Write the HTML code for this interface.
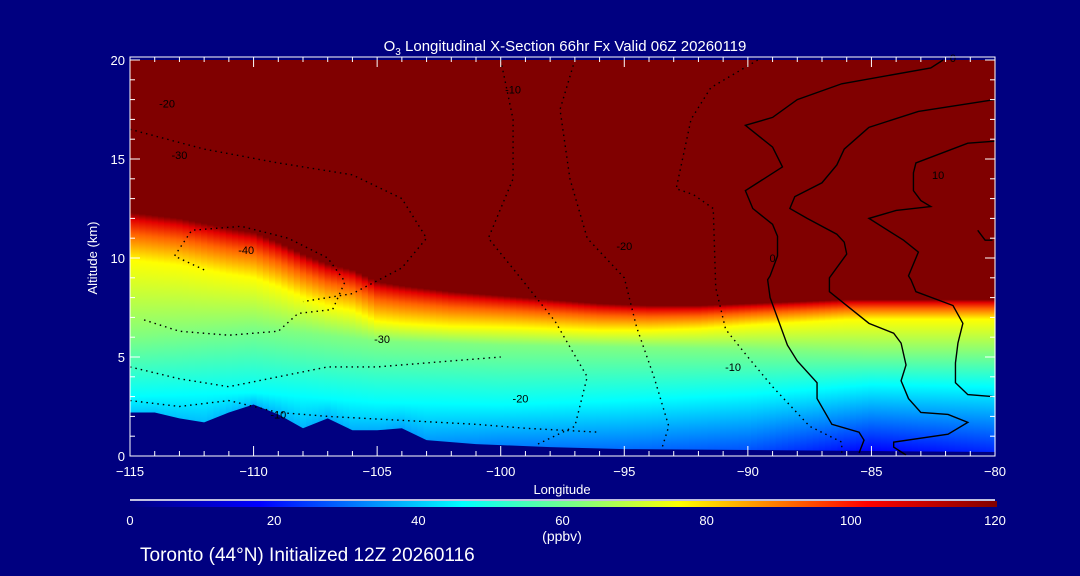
<!DOCTYPE html>
<html><head><meta charset="utf-8"><style>
body{margin:0;background:#000080;}
svg{display:block;font-family:"Liberation Sans",sans-serif;}
</style></head><body>
<svg id="chart" width="1080" height="576" viewBox="0 0 1080 576">
<rect width="1080" height="576" fill="#000080"/>
<defs id="defs"></defs>
<g id="field"></g>
<g id="terrain"></g>
<g id="contours"></g>
<g id="axes"></g>
<text x="565" y="51" fill="#fff" font-size="15" text-anchor="middle">O<tspan font-size="10" dy="4">3</tspan><tspan dy="-4"> Longitudinal X-Section 66hr  Fx Valid 06Z 20260119</tspan></text>
<text x="562" y="494" fill="#fff" font-size="13" text-anchor="middle">Longitude</text>
<text transform="translate(97,258) rotate(-90)" fill="#fff" font-size="13" text-anchor="middle">Altitude (km)</text>
<g id="cbar"></g>
<text x="562" y="541" fill="#fff" font-size="14" text-anchor="middle">(ppbv)</text>
<text x="140" y="561" fill="#fff" font-size="19">Toronto (44°N) Initialized 12Z 20260116</text>
</svg>
<script>
// ---- data ----
const terrLons = [-115,-114,-113,-112,-111,-110,-109,-108,-107,-106,-105,-104,-103,-102,-101,-100,-98,-95,-90,-85,-80];
const terrKm   = [2.2,2.2,1.9,1.7,2.2,2.6,2.1,1.4,1.9,1.3,1.3,1.4,0.8,0.7,0.6,0.55,0.45,0.35,0.3,0.25,0.2];
const tropoLons = [-115,-113,-111,-110,-109,-108,-107,-106,-105,-104,-102,-100,-98,-96,-94,-92,-90,-88,-86,-84,-82,-80];
const tropoKm   = [12.3,12.0,11.5,11.3,10.8,10.2,9.7,9.4,8.8,8.6,8.3,8.1,7.9,7.7,7.6,7.6,7.7,7.8,7.9,7.9,7.9,7.9];
const profLons = [-115,-110,-105,-100,-95,-90,-85,-80];
const transKm  = [2.4,2.3,2.0,1.6,1.3,1.1,1.0,1.0];
const z62Km    = [6.0,6.5,5.8,5.6,5.5,5.4,5.2,5.2];
const z46Km    = [3.0,3.2,2.7,2.6,2.8,3.1,3.6,3.5];
const sfcVal   = [40,38,37,32,30,27,18,22];
const cbarTicks = [0,20,40,60,80,100,120];
const xTicks = [-115,-110,-105,-100,-95,-90,-85,-80];
const yTicks = [0,5,10,15,20];
const solidA = [[-82.1,20.0],[-82.6,19.6],[-86.2,18.8],[-88.0,18.0],[-89.0,17.1],[-90.1,16.7],[-89.0,15.6],[-88.6,14.6],[-90.1,13.4],[-89.8,12.5],[-89.0,11.7],[-88.8,11.1],[-88.8,10.1],[-89.1,9.1],[-89.2,8.9],[-89.1,8.0],[-88.4,5.6],[-88.0,4.8],[-87.2,3.7],[-87.2,2.9],[-86.6,1.6],[-85.5,1.2],[-85.3,0.8],[-85.5,0.15]];
const solidB = [[-80.0,18.0],[-83.1,17.4],[-85.1,16.6],[-86.1,15.5],[-86.4,14.7],[-87.0,13.8],[-88.1,13.1],[-88.3,12.5],[-87.6,12.0],[-86.4,11.2],[-86.1,10.8],[-86.0,10.2],[-86.7,9.0],[-86.7,8.3],[-85.1,6.7],[-84.1,6.2],[-83.8,5.7],[-83.6,4.6],[-83.8,3.8],[-83.5,2.9],[-83.0,2.2],[-81.9,2.1],[-81.1,1.7],[-81.9,1.1],[-84.1,0.7],[-84.1,0.45],[-83.6,0.05]];
const solidC = [[-80.0,15.9],[-81.1,15.8],[-83.2,14.8],[-83.3,14.3],[-83.3,13.4],[-83.0,12.9],[-82.6,12.6],[-84.0,12.4],[-85.1,12.0],[-83.7,10.9],[-83.1,10.3],[-83.5,9.1],[-83.4,8.9],[-83.2,8.3],[-81.7,7.6],[-81.3,6.7],[-81.5,5.7],[-81.6,4.7],[-81.6,3.7],[-81.1,3.1],[-80.1,3.0]];
const solidD = [[-80.7,11.4],[-80.4,10.9],[-80.1,10.9]];
const dotA = [[-89.6,20],[-91.5,18.6],[-92.3,17.0],[-92.9,13.5],[-92.2,13.2],[-91.4,12.5],[-91.3,8.5],[-90.9,6.4],[-90.0,5.0],[-89.0,3.5],[-87.5,1.5],[-86.2,0.7],[-86.2,0.15]];
const dotB = [[-97.0,20],[-97.6,17.5],[-97.2,14],[-96.5,11],[-95.0,9.0],[-94.5,6.5],[-93.8,4.0],[-93.2,1.5],[-93.5,0.3]];
const dotC = [[-100.0,20],[-99.5,17],[-99.5,14],[-100.5,11],[-99.2,9],[-97.8,6.8],[-96.5,4],[-97.0,1.5],[-98.5,0.6]];
const dotD = [[-112.0,9.4],[-113.2,10.1],[-112.5,11.4],[-110.5,11.6],[-108.6,11.0],[-107.0,10.0],[-106.3,8.8],[-106.8,7.4],[-108.2,7.2],[-109.0,6.3],[-111.0,6.1],[-113.0,6.3],[-114.5,6.9]];
const dotE = [[-115,4.5],[-113,3.9],[-111,3.5],[-109,4.0],[-107,4.5],[-105,4.5],[-102,4.8],[-100,5.0]];
const dotF = [[-115,2.8],[-113,2.5],[-111,2.8],[-109,2.2],[-107,2.0],[-104,1.8],[-101,1.6],[-99,1.4],[-96,1.2]];
const dotG = [[-115,16.5],[-112,15.5],[-109,14.8],[-106,14.2],[-104,13.0],[-103,11.0],[-104,9.5],[-106,8.2],[-108,7.8]];
// ---- scales ----
const X0=130,X1=995,Y0=456,Y1=60;
const xs = l => X0+(l+115)/35*(X1-X0);
const ys = a => Y0-(a/20)*(Y0-Y1);
const NS='http://www.w3.org/2000/svg';
function mk(t,a,p){const e=document.createElementNS(NS,t);for(const k in a)e.setAttribute(k,a[k]);(p||document.getElementById('chart')).appendChild(e);return e;}
function interp(xa,ya,x){if(x<=xa[0])return ya[0];for(let i=1;i<xa.length;i++){if(x<=xa[i]){const t=(x-xa[i-1])/(xa[i]-xa[i-1]);return ya[i-1]+t*(ya[i]-ya[i-1]);}}return ya[ya.length-1];}
const cmS=[[0,[0,0,128]],[18,[0,0,255]],[46,[0,255,255]],[62,[128,255,128]],[76,[255,255,0]],[102,[255,0,0]],[120,[128,0,0]]];
function cmap(v){v=Math.max(0,Math.min(120,v));for(let i=1;i<cmS.length;i++){if(v<=cmS[i][0]){const t=(v-cmS[i-1][0])/(cmS[i][0]-cmS[i-1][0]);const a=cmS[i-1][1],b=cmS[i][1];return 'rgb('+a.map((c,j)=>Math.round(c+t*(b[j]-c))).join(',')+')';}}return 'rgb(128,0,0)';}
// ---- field ----
const defs=document.getElementById('defs'), field=document.getElementById('field');
const step=0.25;
for(let l=-115,i=0;l<-80+1e-6;l+=step,i++){
  const tr=interp(tropoLons,tropoKm,l), w=interp(profLons,transKm,l), z62=interp(profLons,z62Km,l), z46=interp(profLons,z46Km,l), s=interp(profLons,sfcVal,l), tz=interp(terrLons,terrKm,l);
  const pts=[[0,s],[Math.max(tz,0.01),s],[z46,46],[z62,62],[tr-w,76],[tr-w*0.45,92],[tr-w*0.15,106],[tr,120],[20,125]];
  const g=mk('linearGradient',{id:'g'+i,gradientUnits:'userSpaceOnUse',x1:0,x2:0,y1:ys(0),y2:ys(20)},defs);
  pts.forEach(p=>{mk('stop',{offset:Math.max(0,Math.min(1,p[0]/20)),'stop-color':cmap(p[1])},g);});
  const xa=xs(Math.max(-115,l-step/2)), xb=xs(Math.min(-80,l+step/2));
  const r=mk('rect',{x:xa,y:Y1,width:xb-xa+0.6,height:Y0-Y1,fill:'url(#g'+i+')'},field);
  
  
}
// ---- terrain ----
let tp='M'+xs(-115)+','+ys(0);
terrLons.forEach((l,i)=>{tp+=' L'+xs(l)+','+ys(terrKm[i]);});
tp+=' L'+xs(-80)+','+ys(0)+' Z';
const tEl=mk('path',{d:tp,fill:'#000080'},document.getElementById('terrain'));


// ---- contours ----
const cg=document.getElementById('contours');
function line(arr,dotted,name){const d='M'+arr.map(p=>xs(p[0])+','+ys(p[1])).join(' L');const e=mk('path',{d:d,fill:'none',stroke:'#000','stroke-width':1.4,'stroke-dasharray':dotted?'1.5,4':'none'},cg);}
line(solidA,false,'contour-0-a');line(solidB,false,'contour-0-b');line(solidC,false,'contour-0-c');line(solidD,false,'contour-0-d');
line(dotA,true,'contour-neg10');line(dotB,true,'contour-neg20-a');line(dotC,true,'contour-neg20-b');line(dotD,true,'contour-neg40');line(dotE,true,'contour-neg30');line(dotF,true,'contour-neg10-low');line(dotG,true,'contour-neg30-upper');
[['-20',-113.5,17.6],['-30',-113.0,15.0],['-40',-110.3,10.2],['-30',-104.8,5.7],['-20',-99.2,2.7],['-10',-109.0,1.9],['-20',-95.0,10.4],['-10',-90.6,4.3],['-10',-99.5,18.3],['0',-89.0,9.8],['10',-82.3,14.0],['0',-81.7,19.9]].forEach(t=>{const e=mk('text',{x:xs(t[1]),y:ys(t[2]),'font-size':11,fill:'#000','text-anchor':'middle'},cg);e.textContent=t[0];});
// ---- axes ----
const ax=document.getElementById('axes');
const fr=mk('rect',{x:X0,y:Y1-3,width:X1-X0,height:Y0-Y1+3,fill:'none',stroke:'#fff','stroke-width':1},ax);

for(let l=-115;l<=-80;l++){const maj=(l%5===0);mk('line',{x1:xs(l),x2:xs(l),y1:Y0,y2:Y0-(maj?10:5),stroke:'#fff'},ax);mk('line',{x1:xs(l),x2:xs(l),y1:Y1-3,y2:Y1-3+(maj?10:5),stroke:'#fff'},ax);}
for(let a=0;a<=20;a++){const maj=(a%5===0);mk('line',{x1:X0,x2:X0+(maj?10:5),y1:ys(a),y2:ys(a),stroke:'#fff'},ax);mk('line',{x1:X1,x2:X1-(maj?10:5),y1:ys(a),y2:ys(a),stroke:'#fff'},ax);}
xTicks.forEach(v=>{const e=mk('text',{x:xs(v),y:476,fill:'#fff','font-size':13,'text-anchor':'middle'},ax);e.textContent=(v<0?'\u2212':'')+Math.abs(v);});
yTicks.forEach(v=>{const e=mk('text',{x:125,y:ys(v)+5,fill:'#fff','font-size':13,'text-anchor':'end'},ax);e.textContent=v;});
// ---- colorbar ----
const cb=document.getElementById('cbar');
const cg2=mk('linearGradient',{id:'cbg',x1:0,x2:1,y1:0,y2:0},defs);
cmS.forEach(s=>mk('stop',{offset:s[0]/120,'stop-color':cmap(s[0])},cg2));
const cs=v=>X0+v/120*(X1-X0);
mk('line',{x1:X0,x2:X1,y1:500,y2:500,stroke:'#fff','stroke-width':1.5},cb);
const cr=mk('rect',{x:X0,y:501,width:X1-X0+2,height:6,fill:'url(#cbg)'},cb);

cbarTicks.forEach(v=>{const e=mk('text',{x:cs(v),y:525,fill:'#fff','font-size':13,'text-anchor':'middle'},cb);e.textContent=v;});
</script>
</body></html>
